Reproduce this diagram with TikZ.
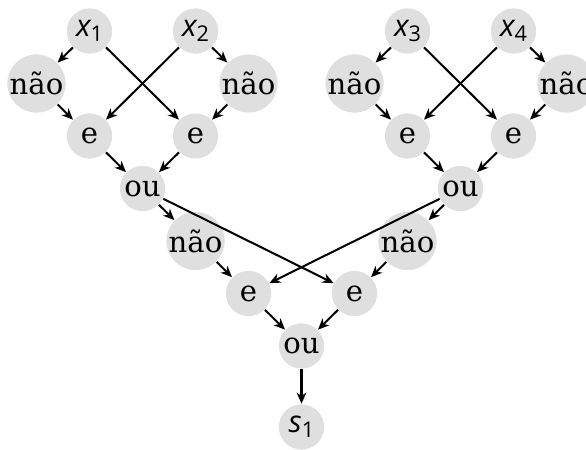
\documentclass[tikz,border=0pt]{standalone}
\usepackage{fontspec}
\setmainfont{DejaVu Serif}
\newfontfamily\msf{Open Sans}
\usetikzlibrary{arrows.meta}
\newcommand\vx[2]{{\msf\itshape\fontsize{9.8}{11}\selectfont #1}\raisebox{-1.6pt}{\msf\fontsize{7}{8}\selectfont #2}}
\begin{document}
\begin{tikzpicture}[x=0.3226pt,y=-0.3226pt,
  gate/.style={circle,fill=gray!25,inner sep=0pt,minimum size=14.6pt,font=\fontsize{9.4}{10}\selectfont},
  arr/.style={line width=0.65pt,-{Stealth[length=3.6pt,width=3.1pt,inset=1.1pt]}}]
\useasboundingbox (0,0) rectangle (586,449);
% top left group
\node[gate] (x1) at (89.5,31) {\vx{x}{1}};
\node[gate] (x2) at (195.5,31) {\vx{x}{2}};
\node[gate] (n1) at (36.5,83.5) {não};
\node[gate] (n2) at (248.5,83.5) {não};
\node[gate] (e1) at (89.5,136) {e};
\node[gate] (e2) at (195.5,136) {e};
\node[gate] (o1) at (142.5,188.5) {ou};
% top right group
\node[gate] (x3) at (407.5,31) {\vx{x}{3}};
\node[gate] (x4) at (513.5,31) {\vx{x}{4}};
\node[gate] (n3) at (354.5,83.5) {não};
\node[gate] (n4) at (566.5,83.5) {não};
\node[gate] (e3) at (407.5,136) {e};
\node[gate] (e4) at (513.5,136) {e};
\node[gate] (o2) at (460.5,188.5) {ou};
% lower part
\node[gate] (n5) at (195.5,241) {não};
\node[gate] (n6) at (407.5,241) {não};
\node[gate] (e5) at (248.5,293.5) {e};
\node[gate] (e6) at (354.5,293.5) {e};
\node[gate] (o3) at (301.5,346) {ou};
\node[gate] (s1) at (301.5,427) {\vx{s}{1}};
% connectors
\draw[arr] (x1) -- (n1);
\draw[arr] (x1) -- (e2);
\draw[arr] (x2) -- (e1);
\draw[arr] (x2) -- (n2);
\draw[arr] (n1) -- (e1);
\draw[arr] (n2) -- (e2);
\draw[arr] (e1) -- (o1);
\draw[arr] (e2) -- (o1);
\draw[arr] (x3) -- (n3);
\draw[arr] (x3) -- (e4);
\draw[arr] (x4) -- (e3);
\draw[arr] (x4) -- (n4);
\draw[arr] (n3) -- (e3);
\draw[arr] (n4) -- (e4);
\draw[arr] (e3) -- (o2);
\draw[arr] (e4) -- (o2);
\draw[arr] (o1) -- (n5);
\draw[arr] (o1) -- (e6);
\draw[arr] (o2) -- (e5);
\draw[arr] (o2) -- (n6);
\draw[arr] (n5) -- (e5);
\draw[arr] (n6) -- (e6);
\draw[arr] (e5) -- (o3);
\draw[arr] (e6) -- (o3);
\draw[arr] (o3) -- (s1);
\end{tikzpicture}
\end{document}
